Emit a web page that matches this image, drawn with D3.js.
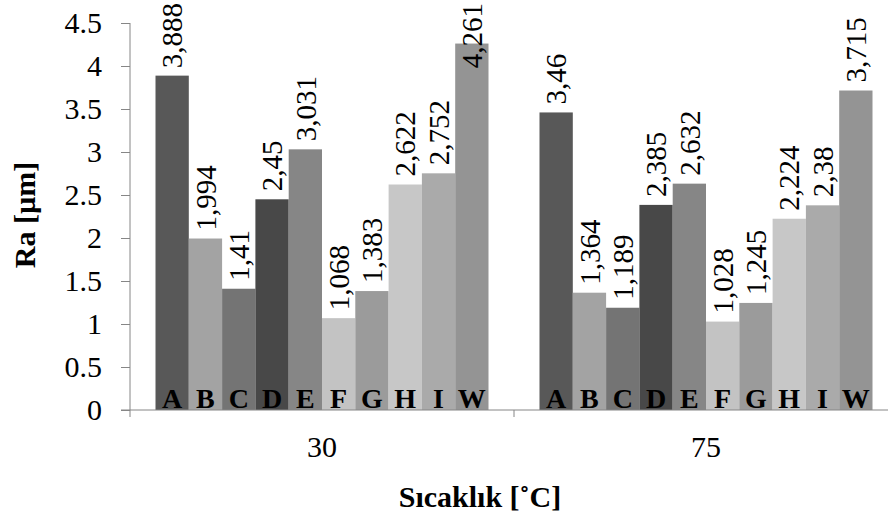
<!DOCTYPE html>
<html>
<head>
<meta charset="utf-8">
<script src="https://cdn.jsdelivr.net/npm/d3@7"></script>
<style>
  body { margin: 0; background: #fff; }
</style>
</head>
<body>
<div id="chart"></div>
<script>
// Sizes
const WIDTH = 888;
const HEIGHT = 517;
const FONT = "'Liberation Serif', serif";

// Data
const temps = ["30", "75"];
const samples = ["A", "B", "C", "D", "E", "F", "G", "H", "I", "W"];
const ra30 = [3.888, 1.994, 1.41, 2.45, 3.031, 1.068, 1.383, 2.622, 2.752, 4.261];
const ra75 = [3.46, 1.364, 1.189, 2.385, 2.632, 1.028, 1.245, 2.224, 2.38, 3.715];
const yTicks = [0, 0.5, 1, 1.5, 2, 2.5, 3, 3.5, 4, 4.5];
const barColors = ["#585858", "#a3a3a3", "#747474", "#484848", "#868686",
                   "#c3c3c3", "#9b9b9b", "#c7c7c7", "#aaaaaa", "#949494"];

const series = [ra30, ra75];

var svg = d3
  .select("#chart")
  .append("svg")
  .attr("width", WIDTH)
  .attr("height", HEIGHT)
  .style("font-family", FONT);

// Scales
const x0 = d3.scaleBand().domain(temps).range([130, 898]).padding(0);
const x1 = d3.scaleBand().domain(samples).range([25.5, x0.bandwidth() - 25.5]).padding(0);
const y = d3.scaleLinear().domain([0, 4.5]).range([410, 23]);

// y-axis
const yAxis = d3.axisLeft(y).tickValues(yTicks).tickSize(9).tickPadding(19)
  .tickFormat(d3.format(""));
svg
  .append("g")
  .attr("transform", "translate(130,0)")
  .call(yAxis)
  .attr("font-family", null)
  .attr("font-size", null)
  .call((g) => g.select(".domain").attr("stroke", "#868686").attr("d", "M0,23V410"))
  .call((g) => g.selectAll(".tick line").attr("stroke", "#868686"))
  .call((g) =>
    g.selectAll(".tick text")
      .attr("fill", "#000")
      .style("font-family", FONT)
      .style("font-size", "30px")
  );

// Bars per group
temps.forEach((t, gi) => {
  const g = svg.append("g").attr("transform", "translate(" + x0(t) + ",0)");

  g.selectAll("rect")
    .data(series[gi])
    .enter()
    .append("rect")
    .attr("x", (d, i) => x1(samples[i]))
    .attr("y", (d) => y(d))
    .attr("width", x1.bandwidth())
    .attr("height", (d) => y(0) - y(d))
    .attr("fill", (d, i) => barColors[i]);

  // value labels (rotated)
  g.selectAll("text.val")
    .data(series[gi])
    .enter()
    .append("text")
    .attr("class", "val")
    .style("font-family", FONT)
    .style("font-size", "29px")
    .attr("fill", "#000")
    .attr("dy", "0.35em")
    .text((d) => String(d).replace(".", ","))
    .each(function (d, i) {
      const len = this.getComputedTextLength();
      let start = y(d) - 8;
      if (start - len < 3) start = 3 + len;
      const cx = x1(samples[i]) + x1.bandwidth() / 2;
      d3.select(this).attr("transform", "translate(" + cx + "," + start + ") rotate(-90)");
    });

  // sample letters at bar bottoms
  g.selectAll("text.letter")
    .data(samples)
    .enter()
    .append("text")
    .attr("class", "letter")
    .attr("x", (d) => x1(d) + x1.bandwidth() / 2)
    .attr("y", 408)
    .attr("text-anchor", "middle")
    .style("font-family", FONT)
    .style("font-size", "28px")
    .attr("font-weight", "bold")
    .attr("fill", "#000")
    .text((d) => d);
});

// x-axis
const xAxis = d3.axisBottom(x0).tickSize(0).tickPadding(26);
svg
  .append("g")
  .attr("transform", "translate(0,410)")
  .call(xAxis)
  .attr("font-family", null)
  .attr("font-size", null)
  .call((g) => g.select(".domain").attr("stroke", "#868686").attr("d", "M121,0H888"))
  .call((g) =>
    g.selectAll(".tick text")
      .attr("fill", "#000")
      .style("font-family", FONT)
      .style("font-size", "30px")
  );

// category boundary ticks
svg
  .append("g")
  .selectAll("line")
  .data(temps)
  .enter()
  .append("line")
  .attr("x1", (d) => x0(d))
  .attr("x2", (d) => x0(d))
  .attr("y1", 410)
  .attr("y2", 417)
  .attr("stroke", "#868686");

// Axis titles
svg
  .append("text")
  .attr("x", 480)
  .attr("y", 507)
  .attr("text-anchor", "middle")
  .style("font-family", FONT)
  .style("font-size", "30px")
  .attr("font-weight", "bold")
  .text("Sıcaklık [˚C]");

svg
  .append("text")
  .attr("transform", "translate(35,215) rotate(-90)")
  .attr("text-anchor", "middle")
  .style("font-family", FONT)
  .style("font-size", "30px")
  .attr("font-weight", "bold")
  .text("Ra [µm]");
</script>
</body>
</html>
